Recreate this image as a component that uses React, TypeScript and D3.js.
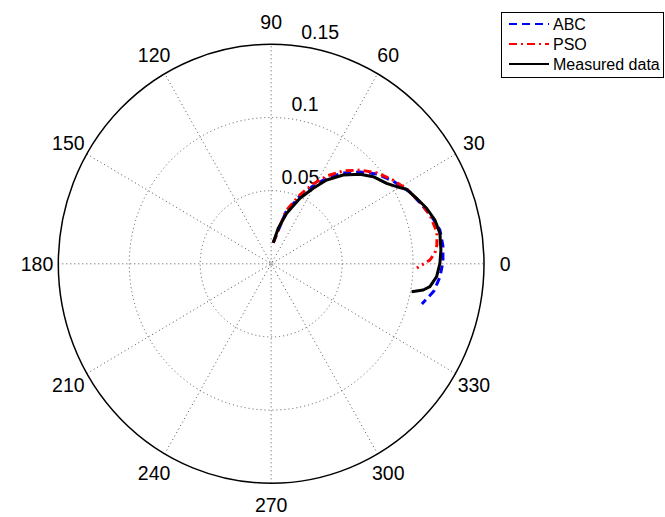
import * as d3 from 'd3';
import { useEffect, useRef } from 'react';

// polar data, angle in degrees, radius in data units
const abcTheta = [84.1, 73.6, 66.35, 61.0, 56.2, 50.8, 45.1, 39.5, 33.4, 26.6, 20.7, 15.76, 10.99, 5.74, 0.58, -4.34, -9.21, -14.5];
const abcR = [0.0145, 0.0369, 0.05058, 0.06078, 0.07059, 0.08006, 0.0886, 0.09655, 0.10279, 0.10941, 0.11359, 0.11773, 0.12115, 0.12166, 0.12106, 0.11927, 0.1162, 0.10974];

const psoTheta = [84.1, 73.9, 66.7, 61.6, 56.8, 51.4, 45.7, 39.8, 33.7, 28.1, 21.9, 16.6, 10.5, 6.28, 3.66, 1.33, -1.6];
const psoR = [0.0145, 0.03756, 0.05121, 0.06198, 0.07173, 0.08112, 0.08958, 0.09699, 0.10317, 0.10848, 0.11303, 0.11675, 0.11882, 0.11752, 0.11565, 0.11192, 0.10277];

const measTheta = [84.1, 78.4, 72.4, 65.6, 60.1, 55.7, 50.1, 44.35, 39.6, 34.06, 30.79, 28.07, 23.59, 19.09, 14.54, 9.94, 4.51, 0.16, -4.32, -7.96, -9.48, -10.9];
const measR = [0.0145, 0.02477, 0.0362, 0.04915, 0.05952, 0.06934, 0.07914, 0.0875, 0.09337, 0.09823, 0.10293, 0.1082, 0.11186, 0.11594, 0.11923, 0.12074, 0.12001, 0.11893, 0.11694, 0.11298, 0.10865, 0.10081];

const ringValues = [0.05, 0.1, 0.15];
const ringLabels = ['0.05', '0.1', '0.15'];
const spokeAngles = [0, 30, 60, 90, 120, 150];
const angleLabels = [0, 30, 60, 90, 120, 150, 180, 210, 240, 270, 300, 330];
const seriesNames = ['ABC', 'PSO', 'Measured data'];

const rMax = 0.15;

export default function App() {
    const ref = useRef<SVGSVGElement>(null);

    useEffect(() => {
        const svg = d3.select(ref.current);
        svg.selectAll('*').remove();

        const x = d3.scaleLinear().domain([-rMax, rMax]).range([58.3, 484]);
        const y = d3.scaleLinear().domain([-rMax, rMax]).range([483.3, 44.3]);
        const cx = x(0), cy = y(0);
        const rad = (deg: number) => deg * Math.PI / 180;
        const px = (r: number, t: number) => x(r * Math.cos(rad(t)));
        const py = (r: number, t: number) => y(r * Math.sin(rad(t)));

        const font = 'Arial, "Liberation Sans", sans-serif';
        const grid = '#555';

        // white plot disc
        svg.append('ellipse')
            .attr('cx', cx).attr('cy', cy)
            .attr('rx', x(rMax) - cx).attr('ry', cy - y(rMax))
            .attr('fill', '#fff');

        // dotted rings
        svg.append('g').selectAll('ellipse')
            .data(ringValues.slice(0, -1))
            .enter().append('ellipse')
            .attr('cx', cx).attr('cy', cy)
            .attr('rx', d => x(d) - cx).attr('ry', d => cy - y(d))
            .attr('fill', 'none').attr('stroke', grid)
            .attr('stroke-width', 1).attr('stroke-dasharray', '1,3');

        // dotted spokes
        svg.append('g').selectAll('line')
            .data(spokeAngles)
            .enter().append('line')
            .attr('x1', d => px(-rMax, d)).attr('y1', d => py(-rMax, d))
            .attr('x2', d => px(rMax, d)).attr('y2', d => py(rMax, d))
            .attr('stroke', grid).attr('stroke-width', 1).attr('stroke-dasharray', '1,3');

        // outer circle
        svg.append('ellipse')
            .attr('cx', cx).attr('cy', cy)
            .attr('rx', x(rMax) - cx).attr('ry', cy - y(rMax))
            .attr('fill', 'none').attr('stroke', '#000').attr('stroke-width', 1.5);

        // ring labels at 82 degrees
        svg.append('g').selectAll('text')
            .data(ringValues)
            .enter().append('text')
            .attr('x', (d) => px(d + rMax / 60, 82))
            .attr('y', (d) => py(d + rMax / 60, 82) - 4)
            .attr('font-family', font).attr('font-size', 19.5)
            .text((d, i) => ringLabels[i]);

        // angle labels
        svg.append('g').selectAll('text')
            .data(angleLabels)
            .enter().append('text')
            .attr('x', d => px(rMax * 1.1, d))
            .attr('y', d => py(rMax * 1.1, d))
            .attr('text-anchor', 'middle').attr('dominant-baseline', 'central')
            .attr('font-family', font).attr('font-size', 19.5)
            .text(d => d);

        const line = d3.line<[number, number]>()
            .x(d => px(d[1], d[0]))
            .y(d => py(d[1], d[0]));

        const series = [
            { t: abcTheta, r: abcR, color: '#0000ff', dash: '8,5' },
            { t: psoTheta, r: psoR, color: '#ff0000', dash: '8,4,2,4' },
            { t: measTheta, r: measR, color: '#000000', dash: null },
        ];

        series.forEach(s => {
            const pts = s.t.map((t, i) => [t, s.r[i]] as [number, number]);
            svg.append('path')
                .attr('d', line(pts))
                .attr('fill', 'none')
                .attr('stroke', s.color)
                .attr('stroke-width', 3)
                .attr('stroke-dasharray', s.dash)
                .attr('stroke-linejoin', 'round');
        });

        // legend
        const lg = svg.append('g');
        lg.append('rect')
            .attr('x', 501.5).attr('y', 12.5).attr('width', 162).attr('height', 65)
            .attr('fill', '#fff').attr('stroke', '#000').attr('stroke-width', 1);
        series.forEach((s, i) => {
            const ly = 24 + i * 20;
            lg.append('line')
                .attr('x1', 509).attr('x2', 549).attr('y1', ly).attr('y2', ly)
                .attr('stroke', s.color).attr('stroke-width', 2.2)
                .attr('stroke-dasharray', s.dash);
            lg.append('text')
                .attr('x', 553).attr('y', ly)
                .attr('dominant-baseline', 'central')
                .attr('font-family', font).attr('font-size', 16)
                .text(seriesNames[i]);
        });
    }, []);

    return (
        <svg ref={ref} width={665} height={517}
            style={{ position: 'absolute', left: 0, top: 0, background: '#fff' }} />
    );
}
